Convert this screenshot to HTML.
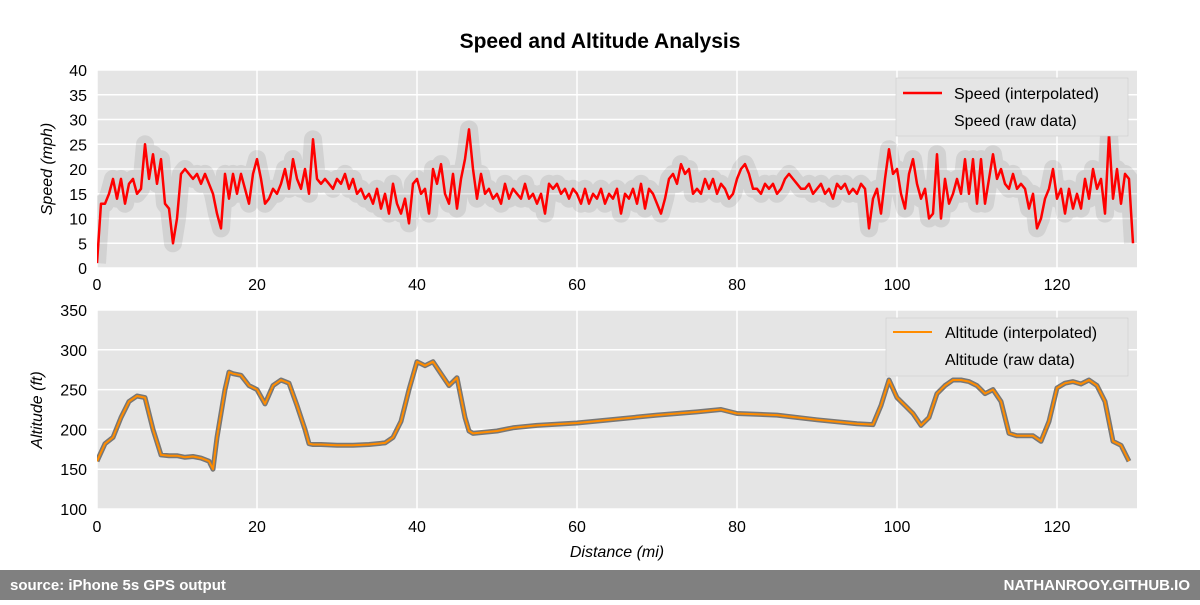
<!DOCTYPE html>
<html><head><meta charset="utf-8"><style>
body{margin:0;background:#fff;font-family:"Liberation Sans",sans-serif}
svg text{font-family:"Liberation Sans",sans-serif}
</style></head><body>
<svg id="c" width="1200" height="600" xmlns="http://www.w3.org/2000/svg">
<defs>
<clipPath id="cs"><rect x="97" y="70" width="1040" height="198"/></clipPath>
<clipPath id="ca"><rect x="97" y="310" width="1040" height="199"/></clipPath>
</defs>
<text x="600" y="48" text-anchor="middle" font-size="21" font-weight="bold">Speed and Altitude Analysis</text>
<rect x="97" y="70" width="1040" height="198" fill="#e5e5e5"/>
<rect x="97" y="310" width="1040" height="199" fill="#e5e5e5"/>
<g id="grid"></g>
<g id="sseries" clip-path="url(#cs)"></g>
<g id="aseries" clip-path="url(#ca)"></g>
<g id="axes" font-size="16"></g>
<text transform="translate(52,169) rotate(-90)" text-anchor="middle" font-size="16" font-style="italic">Speed (mph)</text>
<text transform="translate(42,410) rotate(-90)" text-anchor="middle" font-size="16" font-style="italic">Altitude (ft)</text>
<text x="617" y="557" text-anchor="middle" font-size="16" font-style="italic">Distance (mi)</text>
<g>
<rect x="896" y="78" width="232" height="58" fill="#e5e5e5" stroke="#ccc" stroke-width="0.6"/>
<line x1="903" y1="93" x2="942" y2="93" stroke="#f00" stroke-width="2.5"/>
<text x="954" y="99" font-size="16">Speed (interpolated)</text>
<text x="954" y="126" font-size="16">Speed (raw data)</text>
</g>
<g>
<rect x="886" y="318" width="242" height="58" fill="#e5e5e5" stroke="#ccc" stroke-width="0.6"/>
<line x1="893" y1="332" x2="932" y2="332" stroke="#ff8c00" stroke-width="2"/>
<text x="945" y="338" font-size="16">Altitude (interpolated)</text>
<text x="945" y="365" font-size="16">Altitude (raw data)</text>
</g>
<rect x="0" y="570" width="1200" height="30" fill="#808080"/>
<text x="10" y="590" fill="#fff" font-size="15" font-weight="bold">source: iPhone 5s GPS output</text>
<text x="1190" y="590" fill="#fff" font-size="15" font-weight="bold" text-anchor="end">NATHANROOY.GITHUB.IO</text>
</svg>
<script>
const xTicks=[0,20,40,60,80,100,120];
const speedTicks=[0,5,10,15,20,25,30,35,40];
const altTicks=[100,150,200,250,300,350];
const speedVals=[1,13,13,15,18,14,18,13,17,18,15,16,25,18,23,17,22,13,12,5,10,19,20,19,18,19,17,19,17,15,11,8,19,14,19,15,19,16,13,19,22,18,13,14,16,15,17,20,16,22,18,16,20,15,26,18,17,18,17,16,18,17,19,16,18,15,16,14,15,13,16,12,15,11,17,13,11,14,9,17,18,15,16,11,20,17,21,15,13,19,12,18,22,28,20,14,19,15,16,14,15,13,17,14,16,15,14,17,14,15,13,15,11,17,16,17,15,16,14,16,15,13,16,13,15,14,16,13,15,14,16,11,15,14,16,13,17,12,16,15,13,11,14,18,19,17,21,19,20,15,16,15,18,16,18,15,17,16,14,15,18,20,21,19,16,16,15,17,16,17,15,16,18,19,18,17,16,16,17,15,16,17,15,16,14,17,16,17,15,16,15,17,16,8,14,16,11,18,24,19,20,15,12,19,22,17,14,16,10,11,23,10,18,13,15,18,15,22,15,22,13,22,13,18,23,18,20,17,16,19,16,17,16,12,15,8,10,14,16,20,14,16,11,16,12,15,12,18,14,20,16,18,11,27,14,20,13,19,18,5];
const altDist=[0,1,2,3,4,5,6,7,8,9,10,11,12,13,14,14.5,15,16,16.5,17,18,19,20,21,22,23,24,25,26,26.5,27,28,30,32,34,36,37,38,39,40,41,42,43,44,45,46,46.5,47,50,52,55,60,65,70,75,78,80,85,90,95,97,98,99,100,101,102,103,104,105,106,107,108,109,110,111,112,113,114,115,117,118,119,120,121,122,123,124,125,126,127,128,129];
const altVals=[160,182,190,215,235,242,240,200,168,167,167,165,166,164,160,150,190,250,272,270,268,255,250,232,255,262,258,230,200,182,181,181,180,180,181,183,190,210,250,285,280,285,270,255,265,215,198,195,198,202,205,208,213,218,222,225,220,218,212,207,206,230,262,240,230,220,205,215,245,255,262,262,260,255,245,250,235,195,192,192,185,210,252,258,260,257,262,255,235,185,180,160];
const NS='http://www.w3.org/2000/svg';
const X=d=>97+d*8;
const YS=v=>268-v*198/40;
const YA=v=>509-(v-100)*199/250;
function mk(tag,attrs,parent){const e=document.createElementNS(NS,tag);for(const k in attrs)e.setAttribute(k,attrs[k]);parent.appendChild(e);return e;}
const grid=document.getElementById('grid'),sser=document.getElementById('sseries'),aser=document.getElementById('aseries'),axes=document.getElementById('axes');
xTicks.forEach(t=>{
  let l=mk('line',{x1:X(t),x2:X(t),y1:70,y2:268,stroke:'#fff','stroke-width':1.5},grid);
  
  l=mk('line',{x1:X(t),x2:X(t),y1:310,y2:509,stroke:'#fff','stroke-width':1.5},grid);
  
  let tx=mk('text',{x:X(t),y:290,'text-anchor':'middle'},axes);tx.textContent=t;
  
  tx=mk('text',{x:X(t),y:532,'text-anchor':'middle'},axes);tx.textContent=t;
  
});
speedTicks.forEach(t=>{
  const l=mk('line',{x1:97,x2:1137,y1:YS(t),y2:YS(t),stroke:'#fff','stroke-width':1.5},grid);
  
  const tx=mk('text',{x:87,y:YS(t)+6,'text-anchor':'end'},axes);tx.textContent=t;
  
});
altTicks.forEach(t=>{
  const l=mk('line',{x1:97,x2:1137,y1:YA(t),y2:YA(t),stroke:'#fff','stroke-width':1.5},grid);
  
  const tx=mk('text',{x:87,y:YA(t)+6,'text-anchor':'end'},axes);tx.textContent=t;
  
});
const sp=speedVals.map((v,i)=>X(i*0.5).toFixed(1)+','+YS(v).toFixed(1)).join(' ');
let b=mk('polyline',{points:sp,fill:'none',stroke:'#666','stroke-width':18,'stroke-opacity':0.14,'stroke-linejoin':'round'},sser);

let s=mk('polyline',{points:sp,fill:'none',stroke:'#f00','stroke-width':2.5,'stroke-linejoin':'round'},sser);

const ap=altVals.map((v,i)=>X(altDist[i]).toFixed(1)+','+YA(v).toFixed(1)).join(' ');
b=mk('polyline',{points:ap,fill:'none',stroke:'#777','stroke-width':5,'stroke-linejoin':'round'},aser);

s=mk('polyline',{points:ap,fill:'none',stroke:'#ff8c00','stroke-width':2,'stroke-linejoin':'round'},aser);

</script>
</body></html>
